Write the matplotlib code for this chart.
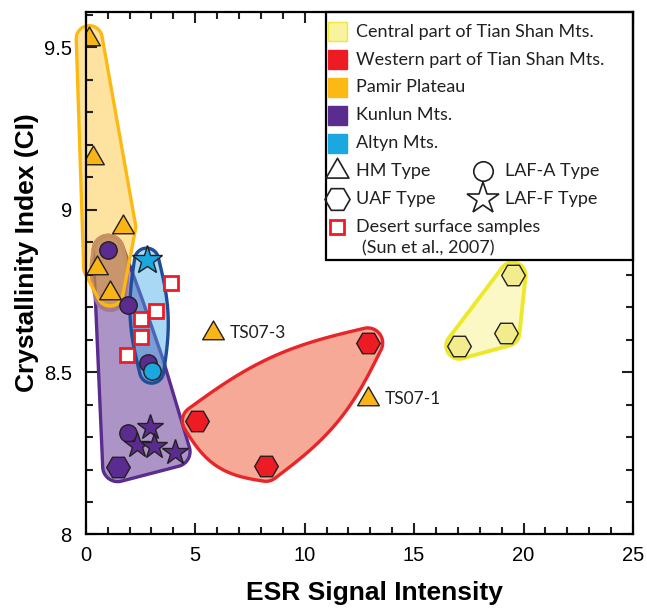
import numpy as np
import matplotlib
matplotlib.use('Agg')  # Non-interactive backend
import matplotlib.pyplot as plt
from matplotlib.patches import Polygon, Rectangle
from matplotlib.path import Path
from matplotlib.ticker import MultipleLocator
from matplotlib.colors import to_rgba

# ---- data (ESR signal intensity, crystallinity index) ----
pamir_hm_x = [0.16, 0.35, 1.69, 0.50, 1.11]
pamir_hm_y = [9.527, 9.158, 8.947, 8.822, 8.744]

ts07_x = [5.80, 12.88]
ts07_y = [8.619, 8.416]
ts07_labels = ['TS07-3', 'TS07-1']

kunlun_lafa_x = [1.03, 1.95, 2.86, 1.95]
kunlun_lafa_y = [8.875, 8.706, 8.529, 8.313]
kunlun_uaf_x = [1.46]
kunlun_uaf_y = [8.209]
kunlun_laff_x = [2.94, 2.36, 3.13, 4.08]
kunlun_laff_y = [8.330, 8.275, 8.272, 8.255]

altyn_laff_x = [2.78]
altyn_laff_y = [8.845]
altyn_lafa_x = [3.01]
altyn_lafa_y = [8.503]

western_uaf_x = [5.10, 8.23, 12.88]
western_uaf_y = [8.350, 8.210, 8.590]

central_uaf_x = [17.06, 19.22, 19.50]
central_uaf_y = [8.581, 8.621, 8.798]

desert_x = [3.89, 3.20, 2.51, 2.51, 1.87]
desert_y = [8.776, 8.689, 8.665, 8.609, 8.552]

region_labels = ['Central part of Tian Shan Mts.', 'Western part of Tian Shan Mts.',
                 'Pamir Plateau', 'Kunlun Mts.', 'Altyn Mts.']
type_labels = ['HM Type', 'LAF-A Type', 'UAF Type', 'LAF-F Type']
desert_label = ['Desert surface samples', '(Sun et al., 2007)']

plt.rcParams['font.family'] = ['Liberation Sans', 'DejaVu Sans']

# equilateral triangle marker, closed so it can be drawn hollow
TRI = Path([(-1, -0.577), (1, -0.577), (0, 1.155), (-1, -0.577)],
           [Path.MOVETO, Path.LINETO, Path.LINETO, Path.CLOSEPOLY])
EDGE = '#231f20'

fig = plt.figure(figsize=(6.47, 6.15), dpi=100)
ax = fig.add_axes([0.1325, 0.1309, 0.8459, 0.8501])
ax.set_xlim(0, 25)
ax.set_ylim(8, 9.61)


def hull(p):
    p = sorted(set(map(tuple, np.asarray(p))))
    if len(p) <= 2:
        return np.array(p)

    def cross(o, a, b):
        return (a[0] - o[0]) * (b[1] - o[1]) - (a[1] - o[1]) * (b[0] - o[0])
    lower, upper = [], []
    for q in p:
        while len(lower) >= 2 and cross(lower[-2], lower[-1], q) <= 0:
            lower.pop()
        lower.append(q)
    for q in reversed(p):
        while len(upper) >= 2 and cross(upper[-2], upper[-1], q) <= 0:
            upper.pop()
        upper.append(q)
    return np.array(lower[:-1] + upper[:-1])


def blob(pts_px, r, bulge=0.0):
    """rounded (and optionally bulged) hull around points given in pixels"""
    h = hull(pts_px)
    samples = [h]
    if bulge and len(h) >= 2:
        for i in range(len(h)):
            a, b = h[i], h[(i + 1) % len(h)]
            d = b - a
            L = np.hypot(*d)
            if L == 0:
                continue
            nrm = np.array([d[1], -d[0]]) / L
            t = np.linspace(0, 1, 25)[:, None]
            samples.append(a + t * d + bulge * np.sin(np.pi * t) * nrm)
    s = np.vstack(samples)
    ang = np.linspace(0, 2 * np.pi, 72, endpoint=False)
    circ = r * np.column_stack([np.cos(ang), np.sin(ang)])
    cloud = (s[:, None, :] + circ[None, :, :]).reshape(-1, 2)
    return ax.transData.inverted().transform(hull(cloud))


def px(xs, ys):
    return ax.transData.transform(np.column_stack([xs, ys]))


def region(xy, fc, alpha, ec, lw=2.4):
    ax.add_patch(Polygon(xy, closed=True, fc=to_rgba(fc, alpha), ec=ec, lw=lw,
                         zorder=1, joinstyle='round', clip_on=False))


# ---- shaded regions ----
kun_pts = px(kunlun_lafa_x + kunlun_uaf_x + kunlun_laff_x,
             kunlun_lafa_y + kunlun_uaf_y + kunlun_laff_y)
region(blob(kun_pts, 15), '#5B2C8F', 0.5, '#5B2C8F')

top_c = px(kunlun_lafa_x[:1], kunlun_lafa_y[:1])
region(blob(np.vstack([top_c, top_c + [2, -45]]), 15, 3), '#A0607A', 0.4, '#A57890')

region(blob(px(pamir_hm_x, pamir_hm_y), 13), '#FDB913', 0.4, '#FDB913')

region(blob(px(altyn_laff_x + altyn_lafa_x, altyn_laff_y + altyn_lafa_y), 12, 7),
       '#3FA9E8', 0.45, '#1F4E99')

region(blob(px(western_uaf_x, western_uaf_y), 15, 12), '#F07050', 0.6, '#E8262A')

region(blob(px(central_uaf_x, central_uaf_y), 13), '#F8F080', 0.45, '#EDE82A', lw=2.8)

# ---- samples ----
mk = dict(ls='none', mec=EDGE, mew=1.0, zorder=4)
ax.plot(desert_x, desert_y, marker='s', ms=10, mfc='white',
        ls='none', mec='#ED1C24', mew=2, zorder=4)
ax.plot(pamir_hm_x, pamir_hm_y, marker=TRI, ms=18, mfc='#F9B515', **mk)
ax.plot(ts07_x, ts07_y, marker=TRI, ms=18, mfc='#F9B515', **mk)
for x, y, lab in zip(ts07_x, ts07_y, ts07_labels):
    ax.annotate(lab, (x, y), xytext=(12, 0), textcoords='offset points',
                va='center', ha='left', fontsize=12.5, family='Lato', color='#231f20')
ax.plot(kunlun_lafa_x, kunlun_lafa_y, marker='o', ms=12.5, mfc='#5B2C8F', **mk)
ax.plot(altyn_lafa_x, altyn_lafa_y, marker='o', ms=12.5, mfc='#1BA8E0', **mk)
ax.plot(kunlun_laff_x, kunlun_laff_y, marker='*', ms=19, mfc='#5B2C8F', **mk)
ax.plot(altyn_laff_x, altyn_laff_y, marker='*', ms=22, mfc='#1BA8E0', **mk)
ax.plot(kunlun_uaf_x, kunlun_uaf_y, marker='H', ms=17, mfc='#5B2C8F', **mk)
ax.plot(western_uaf_x, western_uaf_y, marker='H', ms=17, mfc='#ED1C24', **mk)
ax.plot(central_uaf_x, central_uaf_y, marker='H', ms=17, mfc='#F3EC8C', **mk)

# ---- axes ----
ax.xaxis.set_major_locator(MultipleLocator(5))
ax.xaxis.set_minor_locator(MultipleLocator(1))
ax.yaxis.set_major_locator(MultipleLocator(0.5))
ax.yaxis.set_minor_locator(MultipleLocator(0.1))
ax.set_yticks([8, 8.5, 9, 9.5])
ax.set_yticklabels(['8', '8.5', '9', '9.5'])
ax.tick_params(which='both', direction='in', top=True, right=True, width=1.5,
               labelsize=14.5, color='#231f20')
ax.tick_params(which='major', length=8)
ax.tick_params(which='minor', length=5)
ax.tick_params(axis='x', pad=8)
ax.tick_params(axis='y', pad=10)
for sp in ax.spines.values():
    sp.set_linewidth(1.6)
    sp.set_zorder(5)

ax.set_xlabel('ESR Signal Intensity', fontsize=19, fontweight='bold')
ax.set_ylabel('Crystallinity Index (CI)', fontsize=19, fontweight='bold')
ax.xaxis.set_label_coords(0.527, -0.088)
ax.yaxis.set_label_coords(-0.085, 0.54)

# ---- legend (drawn by hand, mixed layout) ----
T = ax.transAxes
ax.add_patch(Rectangle((0.439, 0.525), 0.561, 0.475, transform=T, fc='white',
                       ec='black', lw=1.6, zorder=5, clip_on=False))
rows = 0.962 - 0.0535 * np.arange(8)
leg_fc = ['#F8F39E', '#ED1C24', '#FDB913', '#5B2C8F', '#1BA8E0']
leg_ec = ['#EFE838', '#ED1C24', '#FDB913', '#5B2C8F', '#1BA8E0']
lt = dict(transform=T, va='center', ha='left', fontsize=13, family='Lato',
          color='#231f20', zorder=6)
for yy, lab, fc, ec in zip(rows[:5], region_labels, leg_fc, leg_ec):
    ax.add_patch(Rectangle((0.4427, yy - 0.018), 0.0347, 0.036, transform=T,
                           fc=fc, ec=ec, lw=1, zorder=6))
    ax.text(0.4939, yy, lab, **lt)

lm = dict(transform=T, ls='none', mfc='none', mec='#231f20', mew=1.2,
          zorder=6, clip_on=False)
ax.plot([0.460], [rows[5]], marker=TRI, ms=19, **lm)
ax.text(0.4939, rows[5], type_labels[0], **lt)
ax.plot([0.726], [rows[5]], marker='o', ms=14, **lm)
ax.text(0.766, rows[5], type_labels[1], **lt)
ax.plot([0.460], [rows[6]], marker='H', ms=18, **lm)
ax.text(0.4939, rows[6], type_labels[2], **lt)
ax.plot([0.726], [rows[6]], marker='*', ms=24, **lm)
ax.text(0.766, rows[6], type_labels[3], **lt)
ax.plot([0.460], [rows[7]], marker='s', ms=10, transform=T, ls='none', mfc='white',
        mec='#ED1C24', mew=2, zorder=6, clip_on=False)
ax.text(0.4939, rows[7], desert_label[0], **lt)
ax.text(0.505, rows[7] - 0.041, desert_label[1], **lt)

plt.savefig('out.png', dpi=100)
plt.close()
